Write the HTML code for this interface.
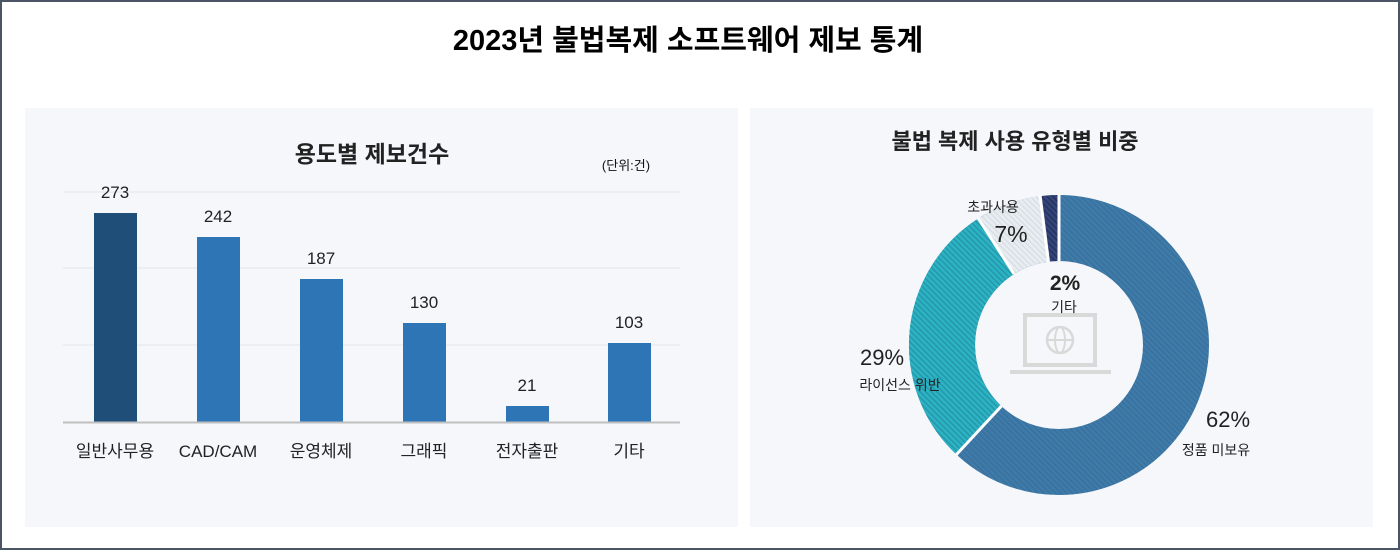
<!DOCTYPE html>
<html><head><meta charset="utf-8"><style>
body{margin:0;width:1400px;height:550px;overflow:hidden;background:#fff;font-family:"Liberation Sans","Noto Sans CJK KR",sans-serif}
.frame{position:absolute;left:0;top:0;width:1396px;height:546px;border:2px solid #4b5565;}
</style></head><body>
<div class="frame"></div>
<svg width="1400" height="550" style="position:absolute;left:0;top:0" font-family="'Liberation Sans','Noto Sans CJK KR',sans-serif">
<defs>
<pattern id="h1" width="4" height="4" patternUnits="userSpaceOnUse" patternTransform="rotate(45)"><rect width="4" height="4" fill="#3f7aa8"/><rect width="1.3" height="4" fill="#37709d"/></pattern>
<pattern id="h2" width="4" height="4" patternUnits="userSpaceOnUse" patternTransform="rotate(45)"><rect width="4" height="4" fill="#2cb3c3"/><rect width="1.3" height="4" fill="#2494a8"/></pattern>
<pattern id="h3" width="4" height="4" patternUnits="userSpaceOnUse" patternTransform="rotate(45)"><rect width="4" height="4" fill="#e8edf1"/><rect width="1.3" height="4" fill="#d6dde4"/></pattern>
<pattern id="h4" width="4" height="4" patternUnits="userSpaceOnUse" patternTransform="rotate(45)"><rect width="4" height="4" fill="#34457a"/><rect width="1.3" height="4" fill="#23305a"/></pattern>
</defs>
<text x="688" y="50" text-anchor="middle" font-size="29" font-weight="bold" fill="#000">2023년 불법복제 소프트웨어 제보 통계</text>
<rect x="25" y="108" width="713" height="419" fill="#f5f7fa"/>
<rect x="750" y="108" width="623" height="419" fill="#f5f7fa"/>
<text x="372" y="162" text-anchor="middle" font-size="23" font-weight="bold" fill="#222">용도별 제보건수</text>
<text x="626" y="170" text-anchor="middle" font-size="13" fill="#111">(단위:건)</text>
<g stroke="#e4e7eb" stroke-width="1"><line x1="63" y1="192" x2="680" y2="192"/><line x1="63" y1="268" x2="680" y2="268"/><line x1="63" y1="345" x2="680" y2="345"/></g>
<rect x="94" y="213" width="43" height="209" fill="#1f4e79"/>
<rect x="197" y="237" width="43" height="185" fill="#2e75b6"/>
<rect x="300" y="279" width="43" height="143" fill="#2e75b6"/>
<rect x="403" y="323" width="43" height="99" fill="#2e75b6"/>
<rect x="506" y="406" width="43" height="16" fill="#2e75b6"/>
<rect x="608" y="343" width="43" height="79" fill="#2e75b6"/>
<line x1="63" y1="422.5" x2="680" y2="422.5" stroke="#bfbfbf" stroke-width="2"/>
<g font-size="17" fill="#222" text-anchor="middle">
<text x="115" y="198">273</text><text x="218" y="222">242</text><text x="321" y="264">187</text><text x="424" y="308">130</text><text x="527" y="391">21</text><text x="629" y="328">103</text>
<text x="115" y="457">일반사무용</text><text x="218" y="457">CAD/CAM</text><text x="321" y="457">운영체제</text><text x="424" y="457">그래픽</text><text x="527" y="457">전자출판</text><text x="629" y="457">기타</text>
</g>
<text x="1015" y="149" text-anchor="middle" font-size="22" font-weight="bold" fill="#222">불법 복제 사용 유형별 비중</text>
<g transform="translate(1059,345) rotate(-90)" fill="none" stroke-width="66">
<circle r="117" stroke="url(#h1)"/>
<circle r="117" stroke="url(#h2)" stroke-dasharray="0 455.8 213.2 66.1"/>
<circle r="117" stroke="url(#h3)" stroke-dasharray="0 669 51.5 14.6"/>
<circle r="117" stroke="url(#h4)" stroke-dasharray="0 720.5 14.6 0"/>
</g>
<g transform="translate(1059,345)" stroke="#fff" stroke-width="3">
<line x1="0" y1="-84" x2="0" y2="-151"/>
<line x1="-57.5" y1="61" x2="-103" y2="110"/>
<line x1="-45" y1="-71" x2="-81" y2="-127"/>
<line x1="-10.5" y1="-83" x2="-19" y2="-150"/>
</g>
<g fill="none" stroke="#d9d9d9" stroke-width="4">
<rect x="1025" y="315" width="70" height="50"/>
<circle cx="1060" cy="340" r="13" stroke-width="2.5"/>
<line x1="1047" y1="340" x2="1073" y2="340" stroke-width="2"/>
<ellipse cx="1060" cy="340" rx="5" ry="13" stroke-width="2"/>
<line x1="1010" y1="372" x2="1111" y2="372"/>
</g>
<text x="1065" y="290" text-anchor="middle" font-size="21" font-weight="bold" fill="#222">2%</text>
<text x="1064" y="312" text-anchor="middle" font-size="14" fill="#222">기타</text>
<text x="993" y="212" text-anchor="middle" font-size="14" fill="#222">초과사용</text>
<text x="1011" y="242" text-anchor="middle" font-size="23" fill="#222">7%</text>
<text x="882" y="365" text-anchor="middle" font-size="22" fill="#222">29%</text>
<text x="900" y="390" text-anchor="middle" font-size="14" fill="#222">라이선스 위반</text>
<text x="1228" y="427" text-anchor="middle" font-size="22" fill="#222">62%</text>
<text x="1216" y="455" text-anchor="middle" font-size="14" fill="#222">정품 미보유</text>
</svg>
</body></html>
